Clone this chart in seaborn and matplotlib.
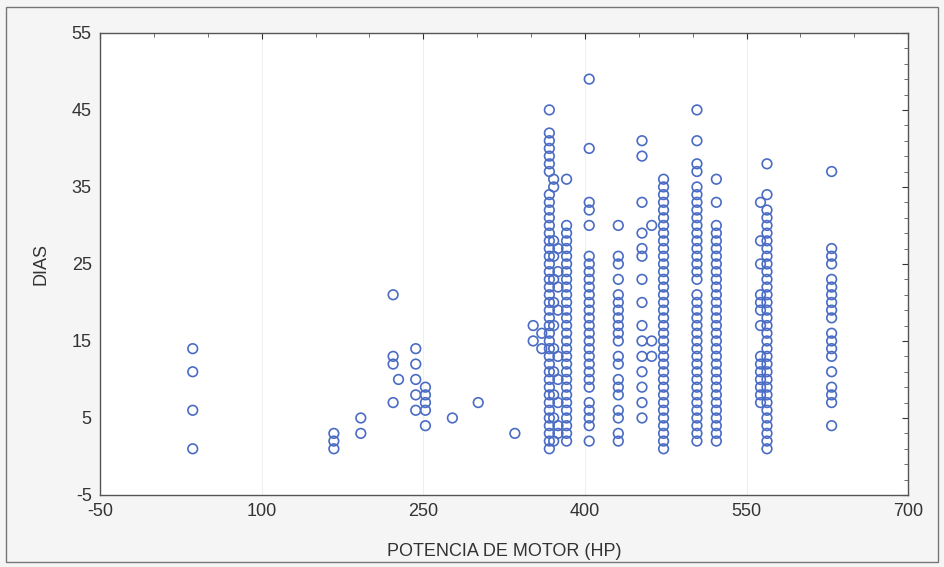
import matplotlib

matplotlib.use("Agg")
import matplotlib.pyplot as plt
import pandas as pd
import seaborn as sns
from matplotlib.patches import Rectangle
from matplotlib.ticker import AutoMinorLocator

# potencia (HP) de cada columna y los dias observados en ella
hp_values = [36, 167, 192, 222, 227, 243, 252, 277, 301, 335,
             352, 360, 367, 371, 375, 383, 404, 431, 453, 462,
             473, 504, 522, 563, 569, 629]

dias_036 = [14, 11, 6, 1]
dias_167 = [3, 2, 1]
dias_192 = [5, 3]
dias_222 = [21, 13, 12, 7]
dias_227 = [10]
dias_243 = [14, 12, 10, 8, 6]
dias_252 = [9, 8, 7, 6, 4]
dias_277 = [5]
dias_301 = [7]
dias_335 = [3]
dias_352 = [17, 15]
dias_360 = [16, 14]
dias_367 = [45, 42, 41, 40, 39, 38, 37, 34, 33, 32, 31, 30, 29, 28, 27, 26, 25,
            24, 23, 22, 21, 20, 19, 18, 17, 16, 15, 14, 13, 12, 11, 10, 9, 8,
            7, 6, 5, 4, 3, 2, 1]
dias_371 = [36, 35, 28, 26, 23, 20, 17, 14, 11, 8, 5, 2]
dias_375 = [27, 24, 22, 19, 13, 10, 7, 4, 3]
dias_383 = [36, 30, 29, 28, 27, 26, 25, 24, 23, 22, 21, 20, 19, 18, 17, 16, 15,
            14, 13, 12, 11, 10, 9, 8, 7, 6, 5, 4, 3, 2]
dias_404 = [49, 40, 33, 32, 30, 26, 25, 24, 23, 22, 21, 20, 19, 18, 17, 16, 15,
            14, 13, 12, 11, 10, 9, 7, 6, 5, 4, 2]
dias_431 = [30, 26, 25, 23, 21, 20, 19, 18, 17, 16, 15, 13, 12, 10, 9, 8, 6,
            5, 3, 2]
dias_453 = [41, 39, 33, 29, 27, 26, 23, 20, 17, 15, 13, 11, 9, 7, 5]
dias_462 = [30, 15, 13]
dias_473 = [36, 35, 34, 33, 32, 31, 30, 29, 28, 27, 26, 25, 24, 23, 22, 21, 20,
            19, 18, 17, 16, 15, 14, 13, 12, 11, 10, 9, 8, 7, 6, 5, 4, 3, 2, 1]
dias_504 = [45, 41, 38, 37, 35, 34, 33, 32, 31, 30, 29, 28, 27, 26, 25, 24, 23,
            21, 20, 19, 18, 17, 16, 15, 14, 13, 12, 11, 10, 9, 8, 7, 6, 5, 4,
            3, 2]
dias_522 = [36, 33, 30, 29, 28, 27, 26, 25, 24, 23, 22, 21, 20, 19, 18, 17, 16,
            15, 14, 13, 12, 11, 10, 9, 8, 7, 6, 5, 4, 3, 2]
dias_563 = [33, 28, 25, 21, 20, 19, 17, 13, 12, 11, 10, 9, 8, 7]
dias_569 = [38, 34, 32, 31, 30, 29, 28, 27, 26, 25, 24, 23, 22, 21, 20, 19, 18,
            17, 16, 15, 14, 13, 12, 11, 10, 9, 8, 7, 6, 5, 4, 3, 2, 1]
dias_629 = [37, 27, 26, 25, 23, 22, 21, 20, 19, 18, 16, 15, 14, 13, 11, 9, 8,
            7, 4]

dias_columns = [dias_036, dias_167, dias_192, dias_222, dias_227, dias_243,
                dias_252, dias_277, dias_301, dias_335, dias_352, dias_360,
                dias_367, dias_371, dias_375, dias_383, dias_404, dias_431,
                dias_453, dias_462, dias_473, dias_504, dias_522, dias_563,
                dias_569, dias_629]

x_ticks = [-50, 100, 250, 400, 550, 700]
y_ticks = [-5, 5, 15, 25, 35, 45, 55]

rows = []
for hp, dias in zip(hp_values, dias_columns):
    for d in dias:
        rows.append({"hp": hp, "dias": d})
df = pd.DataFrame(rows)

sns.set_style("white")
plt.rcParams["font.family"] = ["Liberation Sans", "DejaVu Sans"]
plt.rcParams["axes.unicode_minus"] = False

fig = plt.figure(figsize=(9.44, 5.67), dpi=100, facecolor="#f5f5f5")
ax = fig.add_axes([0.106, 0.127, 0.856, 0.815])
ax.set_facecolor("white")

sns.scatterplot(
    data=df,
    x="hp",
    y="dias",
    ax=ax,
    marker="o",
    s=48,
    facecolor="none",
    edgecolor="#4a6cc4",
    linewidth=1.2,
    legend=False,
    zorder=3,
)

ax.set_xlim(-50, 700)
ax.set_ylim(-5, 55)
ax.set_xticks(x_ticks)
ax.set_yticks(y_ticks)
ax.xaxis.set_minor_locator(AutoMinorLocator(3))
ax.yaxis.set_minor_locator(AutoMinorLocator(5))
ax.tick_params(axis="both", which="major", direction="in", length=4,
               labelsize=13, colors="#333333", top=True, right=True, pad=6)
ax.tick_params(axis="both", which="minor", direction="in", length=3,
               top=True, right=True, colors="#555555")
ax.grid(which="major", axis="x", color="#efefef", linewidth=0.8, zorder=0)

for side in ax.spines.values():
    side.set_color("#555555")
    side.set_linewidth(1.0)

ax.set_xlabel("POTENCIA DE MOTOR (HP)", fontsize=13, color="#333333", labelpad=16)
ax.set_ylabel("DIAS", fontsize=13, color="#333333", labelpad=16)

fig.patches.append(Rectangle((0.006, 0.008), 0.988, 0.98, transform=fig.transFigure,
                             fill=False, edgecolor="#777777", linewidth=1.0))

fig.savefig("out.png", dpi=100, facecolor=fig.get_facecolor())
